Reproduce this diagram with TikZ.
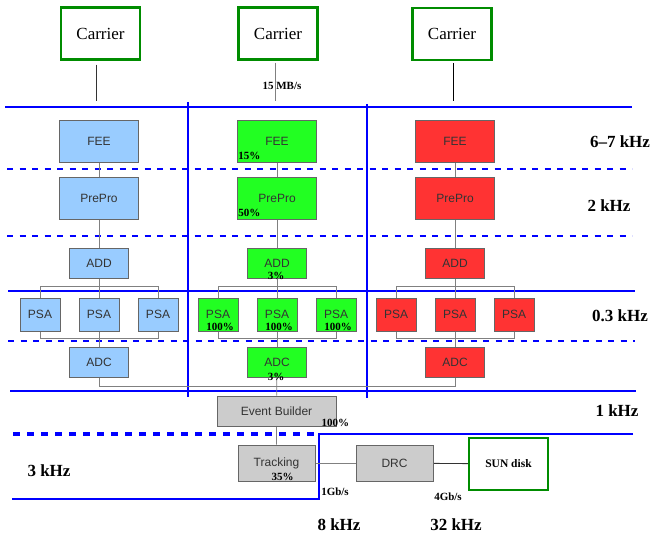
\documentclass[tikz,border=0pt]{standalone}
\usepackage{fontspec}
\setmainfont{Liberation Serif}
\setsansfont{Liberation Sans}
\usetikzlibrary{backgrounds}
\definecolor{boxblue}{RGB}{153,204,255}
\definecolor{boxgreen}{RGB}{34,255,34}
\definecolor{boxred}{RGB}{255,51,51}
\definecolor{boxgrey}{RGB}{204,204,204}
\definecolor{cargreen}{RGB}{0,140,0}
\tikzset{
  unit/.style={draw=black!60, line width=0.9pt, inner sep=0pt, text=black!80, font=\sffamily\fontsize{12}{12}\selectfont},
  big/.style={unit, minimum width=79pt, minimum height=42pt},
  small/.style={unit, minimum width=59pt, minimum height=30pt},
  psa/.style={unit, minimum width=40pt, minimum height=33pt},
  carrier/.style={draw=cargreen, line width=2.4pt, fill=white, inner sep=0pt,
    minimum width=79pt, minimum height=52pt, font=\fontsize{17}{17}\selectfont},
  wire/.style={draw=black!50, line width=0.8pt},
  level/.style={draw=blue, line width=2.8pt},
  sublevel/.style={level, dash pattern=on 6pt off 6.5pt},
  pct/.style={inner sep=0pt, font=\bfseries\fontsize{11}{11}\selectfont},
  rate/.style={inner sep=0pt, font=\bfseries\fontsize{17}{17}\selectfont},
}
\begin{document}
\begin{tikzpicture}[x=1pt,y=-1pt]
    \useasboundingbox (0,0) rectangle (652,534);
    \node[carrier] (c1) at (100.5,33.5) {Carrier};
    \node[carrier] (c2) at (278,33.5) {Carrier};
    \node[carrier] (c3) at (452,34) {Carrier};
    \foreach \col/\x/\clr in {1/99/boxblue,2/277/boxgreen,3/455/boxred}{
        \node[big,fill=\clr] (fee\col) at (\x,141) {FEE};
        \node[big,fill=\clr] (pre\col) at (\x,198) {PrePro};
        \node[small,fill=\clr] (add\col) at (\x,263) {ADD};
        \node[psa,fill=\clr] (psa\col1) at (\x-59,314.5) {PSA};
        \node[psa,fill=\clr] (psa\col2) at (\x,314.5) {PSA};
        \node[psa,fill=\clr] (psa\col3) at (\x+59,314.5) {PSA};
        \node[small,fill=\clr] (adc\col) at (\x,362) {ADC};
    }
    \node[unit,fill=boxgrey,minimum width=119pt,minimum height=30pt] (eb) at (276.5,411) {Event Builder};
    \node[unit,fill=boxgrey,minimum width=77pt,minimum height=36pt] (trk) at (276.5,463) {Tracking};
    \node[unit,fill=boxgrey,minimum width=77pt,minimum height=36pt] (drc) at (394.5,463) {DRC};
    \node[carrier,minimum height=52pt,font=\bfseries\fontsize{11.5}{11.5}\selectfont] (sun) at (508.5,464) {SUN disk};
    % load figures
    \node[pct,anchor=south west] (p1) at ([shift={(1pt,3pt)}]fee2.south west) {15\%};
    \node[pct,anchor=south west] (p2) at ([shift={(1pt,3pt)}]pre2.south west) {50\%};
    \node[pct] (p3) at ([shift={(-1pt,3pt)}]add2.south) {3\%};
    \node[pct,anchor=south] (p4) at ([shift={(2pt,1pt)}]psa21.south) {100\%};
    \node[pct,anchor=south] (p5) at ([shift={(2pt,1pt)}]psa22.south) {100\%};
    \node[pct,anchor=south] (p6) at ([shift={(2pt,1pt)}]psa23.south) {100\%};
    \node[pct] (p7) at ([shift={(-1pt,1pt)}]adc2.south) {3\%};
    \node[pct] (p8) at ([shift={(-1pt,4pt)}]eb.south east) {100\%};
    \node[pct,anchor=south] (p9) at ([shift={(6pt,1pt)}]trk.south) {35\%};
    \node[pct] (bw1) at (282,86) {15 MB/s};
    \node[pct] (bw2) at (335,492) {1Gb/s};
    \node[pct] (bw3) at (448,497) {4Gb/s};
    % trigger rates
    \node[rate] (r1) at (620,142) {6--7 kHz};
    \node[rate] (r2) at (609,206) {2 kHz};
    \node[rate] (r3) at (620,316) {0.3 kHz};
    \node[rate] (r4) at (617,411) {1 kHz};
    \node[rate] (r5) at (49,471) {3 kHz};
    \node[rate] (r6) at (339,525) {8 kHz};
    \node[rate] (r7) at (456,525) {32 kHz};
    \begin{scope}[on background layer]
        \draw[level] (5,107) -- (632,107);
        \draw[level] (8,291) -- (635,291);
        \draw[level] (10,391) -- (636,391);
        \draw[level] (188,102) -- (188,397);
        \draw[level] (367,104) -- (367,398);
        \draw[sublevel] (7,169) -- (632,169);
        \draw[sublevel] (7,236) -- (632,236);
        \draw[sublevel] (8,341) -- (635,341);
        \draw[level,line width=3.5pt,dash pattern=on 7pt off 7pt] (13,434) -- (318,434);
        \draw[level,line width=2pt] (633,434) -- (319,434) -- (319,499) -- (12,499);
        \draw[wire,black!80] ([shift={(-4pt,-4pt)}]c1.south) -- ++(0,36);
        \draw[wire] ([shift={(-3pt,-2pt)}]c2.south) -- ++(0,38);
        \draw[wire,black] ([shift={(1pt,-2pt)}]c3.south) -- ++(0,38);
        \foreach \col in {1,2,3}{
            \draw[wire] (fee\col) -- (pre\col) -- (add\col) -- (psa\col2) -- (adc\col);
            \draw[wire] (psa\col1.north) -- ++(0,-11) -| (psa\col3.north);
            \draw[wire] (psa\col1.south) -- ++(0,7) -| (psa\col3.south);
        }
        \draw[wire] (adc1.south) -- ++(0,9) -| (adc3.south);
        \draw[wire] (adc2) -- (eb) -- (trk);
        \draw[wire] (trk) -- (drc);
        \draw[wire,black!80] (drc) -- (sun);
    \end{scope}
\end{tikzpicture}
\end{document}
